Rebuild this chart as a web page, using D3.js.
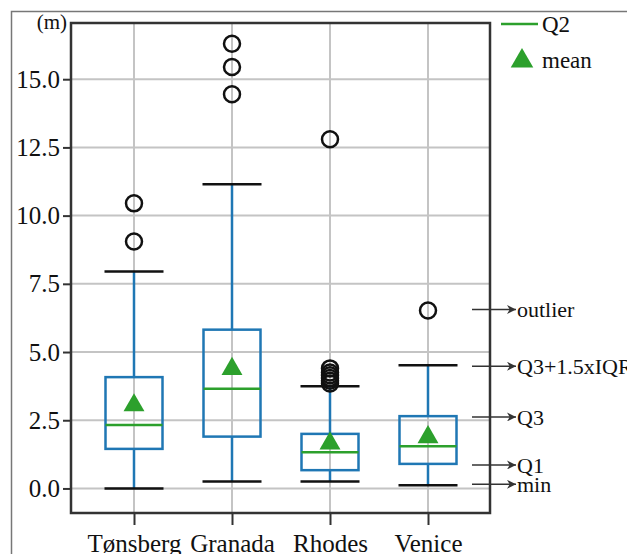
<!DOCTYPE html>
<html>
<head>
<meta charset="utf-8">
<script src="https://cdn.jsdelivr.net/npm/d3@7"></script>
<style>
  body { margin: 0; background: #fff; }
  svg text { font-family: 'Liberation Serif', 'Times New Roman', serif; fill: #111; }
</style>
</head>
<body>
<div id="chart"></div>
<script>
// box statistics per city (metres)
const categories = ['Tønsberg', 'Granada', 'Rhodes', 'Venice'];
const whiskerLow = [0.0, 0.25, 0.25, 0.12];
const q1 = [1.45, 1.9, 0.67, 0.9];
const q2 = [2.33, 3.65, 1.33, 1.55];
const q3 = [4.08, 5.82, 2.0, 2.65];
const whiskerHigh = [7.95, 11.15, 3.75, 4.52];
const means = [3.05, 4.38, 1.65, 1.88];
const outliers = [
  [9.05, 10.45],
  [14.45, 15.45, 16.3],
  [3.85, 3.95, 4.05, 4.15, 4.25, 4.4, 12.8],
  [6.52],
];
const yTicks = [0, 2.5, 5, 7.5, 10, 12.5, 15];
const noteLabels = ['outlier', 'Q3+1.5xIQR', 'Q3', 'Q1', 'min'];
const noteValues = [6.56, 4.48, 2.62, 0.86, 0.15];

const W = 627;
const H = 554;
const plot = { left: 71, right: 490, top: 23, bottom: 513 };

const svg = d3.select('#chart').append('svg')
  .attr('width', W)
  .attr('height', H);

// outer frame of the figure
svg.append('path')
  .attr('d', `M11.5,${H + 2}V11.5H${W + 2}`)
  .attr('fill', 'none')
  .attr('stroke', '#777')
  .attr('stroke-width', 1.5);

const y = d3.scaleLinear()
  .domain([-0.9, 17.06])
  .range([plot.bottom, plot.top]);

const x = d3.scalePoint()
  .domain(categories)
  .range([134, 428]);

// grid
svg.append('g').selectAll('line')
  .data(yTicks)
  .join('line')
  .attr('x1', plot.left).attr('x2', plot.right)
  .attr('y1', (d) => y(d)).attr('y2', (d) => y(d))
  .attr('stroke', '#c4c4c4')
  .attr('stroke-width', 2);

svg.append('g').selectAll('line')
  .data(categories)
  .join('line')
  .attr('x1', (d) => x(d)).attr('x2', (d) => x(d))
  .attr('y1', plot.top).attr('y2', plot.bottom)
  .attr('stroke', '#c4c4c4')
  .attr('stroke-width', 2);

// axes
const yAxis = svg.append('g')
  .attr('transform', `translate(${plot.left},0)`)
  .call(d3.axisLeft(y).tickValues(yTicks).tickFormat(d3.format('.1f')).tickSize(8).tickPadding(3));

const xAxis = svg.append('g')
  .attr('transform', `translate(0,${plot.bottom})`)
  .call(d3.axisBottom(x).tickSize(12));

[yAxis, xAxis].forEach((ax) => {
  ax.select('.domain').remove();
  ax.selectAll('.tick line').attr('stroke', '#333').attr('stroke-width', 2);
  ax.selectAll('.tick text')
    .attr('fill', '#111')
    .style('font-family', "'Liberation Serif', serif")
    .style('font-size', '25px');
});

// category labels sit low, their descenders run off the bottom edge
xAxis.selectAll('.tick text')
  .attr('dy', 0)
  .attr('y', 39);

// plot frame
svg.append('rect')
  .attr('x', plot.left).attr('y', plot.top)
  .attr('width', plot.right - plot.left)
  .attr('height', plot.bottom - plot.top)
  .attr('fill', 'none')
  .attr('stroke', '#333')
  .attr('stroke-width', 2.5);

svg.append('text')
  .attr('x', 67).attr('y', 29)
  .attr('text-anchor', 'end')
  .style('font-size', '21px')
  .text('(m)');

const boxW = 57;
const capW = 59;
const blue = '#1f77b4';
const green = '#2ca02c';

const boxes = svg.append('g').selectAll('g')
  .data(categories)
  .join('g');

// whiskers
boxes.append('line')
  .attr('x1', (d) => x(d)).attr('x2', (d) => x(d))
  .attr('y1', (d, i) => y(whiskerLow[i])).attr('y2', (d, i) => y(q1[i]))
  .attr('stroke', blue).attr('stroke-width', 2.5);
boxes.append('line')
  .attr('x1', (d) => x(d)).attr('x2', (d) => x(d))
  .attr('y1', (d, i) => y(q3[i])).attr('y2', (d, i) => y(whiskerHigh[i]))
  .attr('stroke', blue).attr('stroke-width', 2.5);

// caps
[whiskerLow, whiskerHigh].forEach((vals) => {
  boxes.append('line')
    .attr('x1', (d) => x(d) - capW / 2).attr('x2', (d) => x(d) + capW / 2)
    .attr('y1', (d, i) => y(vals[i])).attr('y2', (d, i) => y(vals[i]))
    .attr('stroke', '#111').attr('stroke-width', 2.5);
});

// box
boxes.append('rect')
  .attr('x', (d) => x(d) - boxW / 2)
  .attr('y', (d, i) => y(q3[i]))
  .attr('width', boxW)
  .attr('height', (d, i) => y(q1[i]) - y(q3[i]))
  .attr('fill', 'none')
  .attr('stroke', blue).attr('stroke-width', 2.5);

// median
boxes.append('line')
  .attr('x1', (d) => x(d) - boxW / 2).attr('x2', (d) => x(d) + boxW / 2)
  .attr('y1', (d, i) => y(q2[i])).attr('y2', (d, i) => y(q2[i]))
  .attr('stroke', green).attr('stroke-width', 2.5);

// means
const tri = d3.symbol().type(d3.symbolTriangle).size(190);
boxes.append('path')
  .attr('d', tri)
  .attr('transform', (d, i) => `translate(${x(d)},${y(means[i])})`)
  .attr('fill', green);

// outliers
boxes.selectAll('circle')
  .data((d, i) => outliers[i].map((v) => ({ c: d, v })))
  .join('circle')
  .attr('cx', (d) => x(d.c))
  .attr('cy', (d) => y(d.v))
  .attr('r', 8)
  .attr('fill', 'none')
  .attr('stroke', '#111')
  .attr('stroke-width', 2.5);

// legend
svg.append('line')
  .attr('x1', 501).attr('x2', 538)
  .attr('y1', 24).attr('y2', 24)
  .attr('stroke', green).attr('stroke-width', 2.5);
svg.append('text')
  .attr('x', 542).attr('y', 24).attr('dy', '0.35em')
  .style('font-size', '23px')
  .text('Q2');
svg.append('path')
  .attr('d', d3.symbol().type(d3.symbolTriangle).size(220))
  .attr('transform', 'translate(522,61)')
  .attr('fill', green);
svg.append('text')
  .attr('x', 542).attr('y', 60).attr('dy', '0.35em')
  .style('font-size', '23px')
  .text('mean');

// annotations with arrows
svg.append('defs').append('marker')
  .attr('id', 'arrow')
  .attr('viewBox', '0 0 10 10')
  .attr('refX', 10).attr('refY', 5)
  .attr('markerWidth', 10).attr('markerHeight', 9)
  .attr('markerUnits', 'userSpaceOnUse')
  .attr('orient', 'auto')
  .append('path')
  .attr('d', 'M0,0L10,5L0,10L3,5Z')
  .attr('fill', '#333');

const notes = svg.append('g').selectAll('g')
  .data(noteLabels)
  .join('g')
  .attr('transform', (d, i) => `translate(0,${y(noteValues[i])})`);

notes.append('line')
  .attr('x1', 472).attr('x2', 516)
  .attr('stroke', '#333').attr('stroke-width', 1.5)
  .attr('marker-end', 'url(#arrow)');

notes.append('text')
  .attr('x', 517).attr('dy', '0.35em')
  .style('font-size', '22px')
  .text((d) => d);
</script>
</body>
</html>
